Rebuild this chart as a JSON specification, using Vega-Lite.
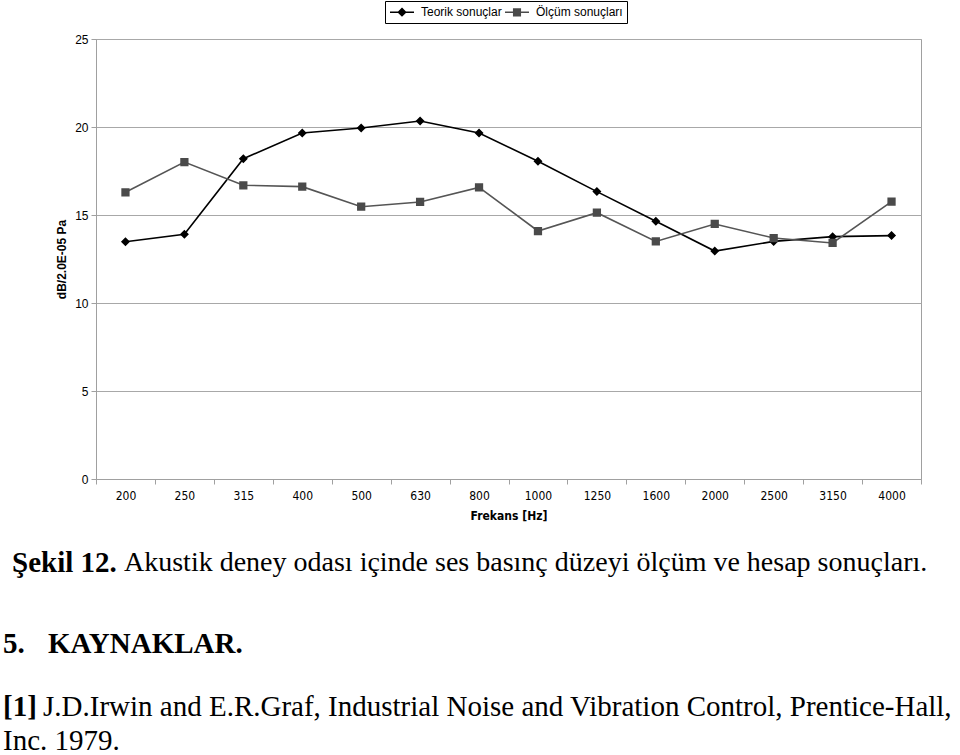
{
  "$schema": "https://vega.github.io/schema/vega-lite/v6.json",
  "padding": {"left": 3, "top": 0, "right": 0, "bottom": 0},
  "background": "white",
  "config": {
    "font": "Liberation Sans",
    "view": {"stroke": null},
    "axis": {
      "labelFont": "Liberation Sans", "labelFontSize": 12, "labelColor": "#000",
      "titleFont": "Liberation Sans", "titleFontSize": 12, "titleFontWeight": "bold", "titleColor": "#000",
      "domainColor": "#a0a0a0", "tickColor": "#a0a0a0", "gridColor": "#a8a8a8", "tickSize": 5
    }
  },
  "datasets": {
    "main": [
      {"f": 200, "series": "Teorik sonuçlar", "v": 13.48},
      {"f": 250, "series": "Teorik sonuçlar", "v": 13.90},
      {"f": 315, "series": "Teorik sonuçlar", "v": 18.20},
      {"f": 400, "series": "Teorik sonuçlar", "v": 19.66},
      {"f": 500, "series": "Teorik sonuçlar", "v": 19.94},
      {"f": 630, "series": "Teorik sonuçlar", "v": 20.34},
      {"f": 800, "series": "Teorik sonuçlar", "v": 19.66},
      {"f": 1000, "series": "Teorik sonuçlar", "v": 18.05},
      {"f": 1250, "series": "Teorik sonuçlar", "v": 16.33},
      {"f": 1600, "series": "Teorik sonuçlar", "v": 14.64},
      {"f": 2000, "series": "Teorik sonuçlar", "v": 12.95},
      {"f": 2500, "series": "Teorik sonuçlar", "v": 13.50},
      {"f": 3150, "series": "Teorik sonuçlar", "v": 13.77},
      {"f": 4000, "series": "Teorik sonuçlar", "v": 13.83},
      {"f": 200, "series": "Ölçüm sonuçları", "v": 16.29},
      {"f": 250, "series": "Ölçüm sonuçları", "v": 18.01},
      {"f": 315, "series": "Ölçüm sonuçları", "v": 16.69},
      {"f": 400, "series": "Ölçüm sonuçları", "v": 16.61},
      {"f": 500, "series": "Ölçüm sonuçları", "v": 15.47},
      {"f": 630, "series": "Ölçüm sonuçları", "v": 15.74},
      {"f": 800, "series": "Ölçüm sonuçları", "v": 16.57},
      {"f": 1000, "series": "Ölçüm sonuçları", "v": 14.09},
      {"f": 1250, "series": "Ölçüm sonuçları", "v": 15.13},
      {"f": 1600, "series": "Ölçüm sonuçları", "v": 13.50},
      {"f": 2000, "series": "Ölçüm sonuçları", "v": 14.49},
      {"f": 2500, "series": "Ölçüm sonuçları", "v": 13.69},
      {"f": 3150, "series": "Ölçüm sonuçları", "v": 13.41},
      {"f": 4000, "series": "Ölçüm sonuçları", "v": 15.76}
    ],
    "caption": [
      {"t": "Şekil 12.", "w": "b"},
      {"t": "Akustik deney odası içinde ses basınç düzeyi ölçüm ve hesap sonuçları.", "w": "n"}
    ],
    "heading": [
      {"t": "5.", "w": "n"},
      {"t": "KAYNAKLAR.", "w": "b"}
    ],
    "ref1": [
      {"t": "[1]", "w": "b"},
      {"t": "J.D.Irwin and E.R.Graf, Industrial Noise and Vibration Control, Prentice-Hall,", "w": "n"}
    ],
    "ref2": [
      {"t": "Inc. 1979.", "w": "n"}
    ]
  },
  "vconcat": [
    {
      "width": 825,
      "height": 440,
      "view": {"stroke": "#a0a0a0"},
      "data": {"name": "main"},
      "encoding": {
        "x": {"field": "f", "type": "ordinal", "title": "Frekans [Hz]",
              "axis": {"labelAngle": 0, "tickBand": "extent", "labelPadding": 6, "titlePadding": 9, "grid": false,
                       "labelFont": "Liberation Sans Narrow, DejaVu Sans Condensed, Liberation Sans",
                       "titleFont": "Liberation Sans Narrow, DejaVu Sans Condensed, Liberation Sans"}},
        "y": {"field": "v", "type": "quantitative", "title": "dB/2.0E-05 Pa",
              "scale": {"domain": [0, 25], "nice": false},
              "axis": {"values": [0, 5, 10, 15, 20, 25], "grid": true, "labelPadding": 3, "titlePadding": 6}}
      },
      "layer": [
        {
          "transform": [{"filter": "datum.series == 'Teorik sonuçlar'"}],
          "mark": {"type": "line", "strokeWidth": 1.6, "color": "#000000"}
        },
        {
          "transform": [{"filter": "datum.series == 'Ölçüm sonuçları'"}],
          "mark": {"type": "line", "strokeWidth": 1.6, "color": "#555555"}
        },
        {
          "mark": {"type": "point", "filled": true, "opacity": 1, "size": 225},
          "encoding": {
            "color": {"field": "series", "type": "nominal",
                      "scale": {"domain": ["Teorik sonuçlar", "Ölçüm sonuçları"], "range": ["#000000", "#4a4a4a"]},
                      "legend": {"orient": "none", "legendX": 289, "legendY": -38, "direction": "horizontal", "title": null,
                                 "strokeColor": "#000", "padding": 4, "symbolSize": 144, "symbolOffset": 6, "labelOffset": 12,
                                 "symbolStrokeColor": "#000", "symbolStrokeWidth": 1.5, "symbolOpacity": 1,
                                 "labelFont": "Liberation Sans", "labelFontSize": 12, "labelColor": "#000", "columnPadding": 0,
                                 "encode": {"symbols": {"update": {"stroke": {"scale": "color", "field": "value"}, "strokeWidth": {"value": 1.5}}}}}},
            "shape": {"field": "series", "type": "nominal",
                      "scale": {"domain": ["Teorik sonuçlar", "Ölçüm sonuçları"],
                                "range": ["M-2,0H2M0,-0.6L0.6,0L0,0.6L-0.6,0Z", "M-2,0H2M-0.55,-0.55H0.55V0.55H-0.55Z"]}}
          }
        }
      ]
    },
    {
      "vconcat": [
        {
          "width": 825, "height": 79,
          "data": {"name": "caption"},
          "layer": [
            {"transform": [{"filter": "datum.w == 'b'"}],
             "mark": {"type": "text", "font": "Liberation Serif", "fontSize": 29, "fontWeight": "bold", "align": "left", "baseline": "middle", "dx": -84, "color": "#000"},
             "encoding": {"x": {"value": 0}, "text": {"field": "t"}}},
            {"transform": [{"filter": "datum.w == 'n'"}],
             "mark": {"type": "text", "font": "Liberation Serif", "fontSize": 28, "align": "left", "baseline": "middle", "dx": 28, "color": "#000"},
             "encoding": {"x": {"value": 0}, "text": {"field": "t"}}}
          ]
        },
        {
          "width": 825, "height": 83,
          "data": {"name": "heading"},
          "layer": [
            {"transform": [{"filter": "datum.w == 'n'"}],
             "mark": {"type": "text", "font": "Liberation Serif", "fontSize": 29, "fontWeight": "bold", "align": "left", "baseline": "middle", "dx": -93, "color": "#000"},
             "encoding": {"x": {"value": 0}, "text": {"field": "t"}}},
            {"transform": [{"filter": "datum.w == 'b'"}],
             "mark": {"type": "text", "font": "Liberation Serif", "fontSize": 29, "fontWeight": "bold", "align": "left", "baseline": "middle", "dx": -48, "color": "#000"},
             "encoding": {"x": {"value": 0}, "text": {"field": "t"}}}
          ]
        },
        {
          "width": 825, "height": 44,
          "data": {"name": "ref1"},
          "layer": [
            {"transform": [{"filter": "datum.w == 'b'"}],
             "mark": {"type": "text", "font": "Liberation Serif", "fontSize": 29, "fontWeight": "bold", "align": "left", "baseline": "middle", "dx": -93, "color": "#000"},
             "encoding": {"x": {"value": 0}, "text": {"field": "t"}}},
            {"transform": [{"filter": "datum.w == 'n'"}],
             "mark": {"type": "text", "font": "Liberation Serif", "fontSize": 29, "align": "left", "baseline": "middle", "dx": -53, "color": "#000"},
             "encoding": {"x": {"value": 0}, "text": {"field": "t"}}}
          ]
        },
        {
          "width": 825, "height": 24,
          "data": {"name": "ref2"},
          "mark": {"type": "text", "font": "Liberation Serif", "fontSize": 29, "align": "left", "baseline": "middle", "dx": -93, "color": "#000"},
          "encoding": {"x": {"value": 0}, "text": {"field": "t"}}
        }
      ],
      "spacing": 0,
      "bounds": "flush"
    }
  ],
  "spacing": 44,
  "bounds": "flush"
}
